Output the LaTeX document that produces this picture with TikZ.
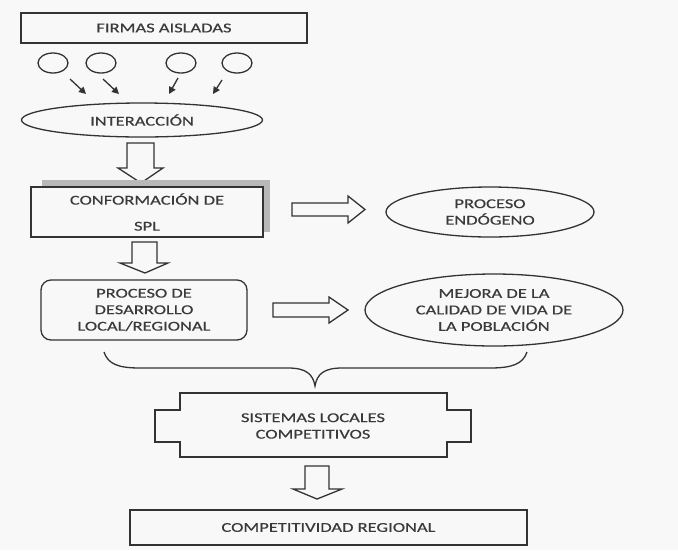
\documentclass[tikz,border=0pt]{standalone}
\usepackage{fontspec}
\setmainfont{Carlito}[FakeStretch=1.37,FakeBold=0.5]
\usetikzlibrary{arrows.meta,shapes.geometric}
\definecolor{bg}{HTML}{F8F8F8}
\definecolor{ln}{HTML}{333333}
\definecolor{tx}{HTML}{3A3A3A}
\definecolor{shd}{HTML}{B8B8B8}
\begin{document}
\begin{tikzpicture}[x=1pt,y=-1pt,
  lbl/.style={font=\fontsize{13.5}{16.5}\selectfont, text=tx, align=center, inner sep=0pt},
  boxr/.style={draw=ln, line width=1.3pt, fill=bg, rectangle, inner sep=0pt, lbl},
  ell/.style={draw=ln, line width=1.3pt, fill=bg, ellipse, inner sep=0pt, lbl},
  circ/.style={draw=ln, line width=1.3pt, ellipse, minimum width=30pt, minimum height=20pt, inner sep=0pt},
  smallarrow/.style={draw=ln, line width=1.3pt, -{Triangle[length=7pt,width=7pt]}},
  blockarrow/.style={draw=ln, line width=1.3pt, fill=bg, line join=miter}
]
\useasboundingbox (0,0) rectangle (678,550);
\fill[bg] (0,0) rectangle (678,550);

% top box
\node[boxr, minimum width=286pt, minimum height=30pt] (firmas) at (164,28) {FIRMAS AISLADAS};

% circles
\node[circ] (c1) at (53,63) {};
\node[circ] (c2) at (101,63) {};
\node[circ] (c3) at (181,63) {};
\node[circ] (c4) at (237,63) {};

% small arrows
\coordinate (s1) at (70,79);  \coordinate (e1) at (86,94);
\coordinate (s2) at (103,79); \coordinate (e2) at (119,94);
\coordinate (s3) at (178,78); \coordinate (e3) at (169,94);
\coordinate (s4) at (222,80); \coordinate (e4) at (213,94);
\draw[smallarrow] (s1) -- (e1);
\draw[smallarrow] (s2) -- (e2);
\draw[smallarrow] (s3) -- (e3);
\draw[smallarrow] (s4) -- (e4);

% interaccion
\node[ell, minimum width=241pt, minimum height=34pt] (inter) at (142,120) {INTERACCIÓN};

% block arrow down 1
\draw[blockarrow] (127,143) -- (154,143) -- (154,168) -- (163,168) -- (141,183) -- (118,168) -- (127,168) -- cycle;

% conformacion with shadow
\fill[shd] (42,180) rectangle (270,232);
\node[boxr, minimum width=232pt, minimum height=50pt] (conf) at (147,212) {CONFORMACIÓN DE\\[9.5pt]SPL};

% right arrow 1
\draw[blockarrow] (292,203) -- (348,203) -- (348,196) -- (365,209.5) -- (348,223) -- (348,216) -- (292,216) -- cycle;

% endogeno
\node[ell, minimum width=208pt, minimum height=50pt] (endo) at (490,212) {PROCESO\\ENDÓGENO};

% block arrow down 2
\draw[blockarrow] (132,242) -- (157,242) -- (157,263) -- (168,263) -- (145,273) -- (120,263) -- (132,263) -- cycle;

% proceso de desarrollo
\node[boxr, rounded corners=10pt, minimum width=206pt, minimum height=60pt] (proc) at (144,310) {PROCESO DE\\DESARROLLO\\LOCAL/REGIONAL};

% right arrow 2
\draw[blockarrow] (273,303) -- (329,303) -- (329,297) -- (348,310) -- (329,323) -- (329,317) -- (273,317) -- cycle;

% mejora
\node[ell, minimum width=258pt, minimum height=72pt] (mejora) at (494,310) {MEJORA DE LA\\CALIDAD DE VIDA DE\\LA POBLACIÓN};

% brace
\draw[draw=ln, line width=1.3pt]
  (104,352) .. controls (108,364) and (118,368) .. (140,368)
  -- (288,368) .. controls (306,368) and (313,374) .. (315,386)
  .. controls (317,374) and (324,368) .. (342,368)
  -- (490,368) .. controls (512,368) and (523,364) .. (527,352);

% sistemas locales
\draw[draw=ln, line width=1.3pt, fill=bg] (180,393) -- (447,393) -- (447,410) -- (471,410) -- (471,442) -- (447,442) -- (447,457) -- (180,457) -- (180,442) -- (155,442) -- (155,410) -- (180,410) -- cycle;
\node[lbl] (sist) at (313,426) {SISTEMAS LOCALES\\COMPETITIVOS};

% block arrow down 3
\draw[blockarrow] (305,466) -- (329,466) -- (329,489) -- (342,489) -- (317,499) -- (293,489) -- (305,489) -- cycle;

% competitividad
\node[boxr, minimum width=397pt, minimum height=35pt] (comp) at (328.5,527.5) {COMPETITIVIDAD REGIONAL};
\end{tikzpicture}
\end{document}
